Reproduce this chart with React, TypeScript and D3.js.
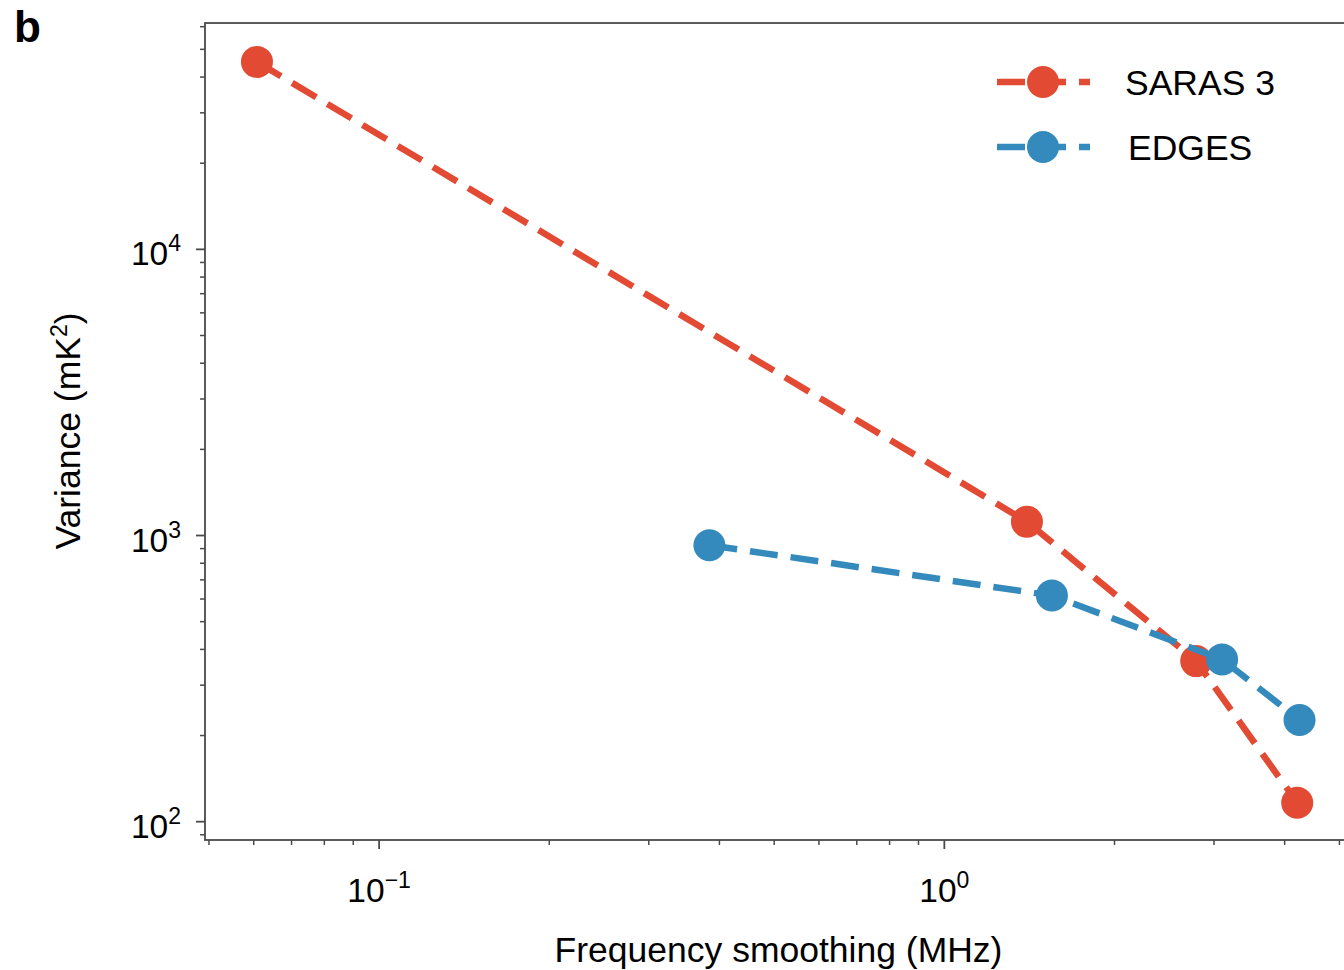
import React from "react";
import * as d3 from "d3";

const seriesNames = ["SARAS 3", "EDGES"];
const seriesColors = ["#E24A33", "#348ABD"];
const sarasX = [0.0608, 1.40, 2.79, 4.21];
const sarasY = [45200, 1117, 364, 116.5];
const edgesX = [0.384, 1.55, 3.10, 4.25];
const edgesY = [925, 617, 369, 226.6];
const xMajorTicks = [0.1, 1];
const xMajorLabels = [["10", "−1"], ["10", "0"]];
const yMajorTicks = [100, 1000, 10000];
const yMajorLabels = [["10", "2"], ["10", "3"], ["10", "4"]];

const W = 1344;
const H = 970;
const FONT = "'Liberation Sans', Arial, Helvetica, sans-serif";

export default function App() {
  const x = d3.scaleLog().domain([0.0492, 5.22]).range([205, 1350]);
  const y = d3.scaleLog().domain([86.3, 61800]).range([840, 23]);
  const [x0, x1] = x.range();
  const [yb, yt] = y.range();

  const xMinor: number[] = [];
  for (let e = -2; e <= 1; e++) {
    for (let m = 2; m <= 9; m++) {
      const v = m * Math.pow(10, e);
      if (v >= x.domain()[0] && v <= x.domain()[1]) xMinor.push(v);
    }
  }
  const yMinor: number[] = [];
  for (let e = 1; e <= 4; e++) {
    for (let m = 2; m <= 9; m++) {
      const v = m * Math.pow(10, e);
      if (v >= y.domain()[0] && v <= y.domain()[1]) yMinor.push(v);
    }
  }

  const line = d3
    .line<[number, number]>()
    .x((d) => x(d[0]))
    .y((d) => y(d[1]));

  const series = [
    { name: seriesNames[0], color: seriesColors[0], pts: sarasX.map((v, i) => [v, sarasY[i]] as [number, number]), lx: 1125 },
    { name: seriesNames[1], color: seriesColors[1], pts: edgesX.map((v, i) => [v, edgesY[i]] as [number, number]), lx: 1128 },
  ];

  const lw = 6.5;
  const dash = "28,13";
  const r = 16;
  const axisColor = "#4a4a4a";

  return (
    <svg width={W} height={H} style={{ position: "absolute", left: 0, top: 0, background: "#fff" }} fontFamily={FONT}>
      <rect x={0} y={0} width={W} height={H} fill="#fff" />
      <text x={14} y={42} fontSize={44} fontWeight="bold" fill="#000">b</text>

      {/* data */}
      {series.map((s) => (
        <g key={s.name}>
          <path d={line(s.pts) || ""} fill="none" stroke={s.color} strokeWidth={lw} strokeDasharray={dash} strokeLinecap="butt" />
          {s.pts.map((p, i) => (
            <circle key={i} cx={x(p[0])} cy={y(p[1])} r={r} fill={s.color} />
          ))}
        </g>
      ))}

      {/* spines */}
      <rect x={x0} y={yt} width={x1 - x0} height={yb - yt} fill="none" stroke={axisColor} strokeWidth={1.8} />

      {/* x ticks */}
      {xMinor.map((v) => (
        <line key={"xm" + v} x1={x(v)} x2={x(v)} y1={yb} y2={yb + 5} stroke={axisColor} strokeWidth={1.5} />
      ))}
      {xMajorTicks.map((v, i) => (
        <g key={"xM" + v}>
          <line x1={x(v)} x2={x(v)} y1={yb} y2={yb + 9} stroke={axisColor} strokeWidth={1.8} />
          <text x={x(v)} y={902} textAnchor="middle" fontSize={33.5} fill="#000">
            {xMajorLabels[i][0]}
            <tspan dy={-14} fontSize={23}>{xMajorLabels[i][1]}</tspan>
          </text>
        </g>
      ))}

      {/* y ticks */}
      {yMinor.map((v) => (
        <line key={"ym" + v} x1={x0 - 5} x2={x0} y1={y(v)} y2={y(v)} stroke={axisColor} strokeWidth={1.5} />
      ))}
      {yMajorTicks.map((v, i) => (
        <g key={"yM" + v}>
          <line x1={x0 - 9} x2={x0} y1={y(v)} y2={y(v)} stroke={axisColor} strokeWidth={1.8} />
          <text x={181} y={y(v) + 16} textAnchor="end" fontSize={33.5} fill="#000">
            {yMajorLabels[i][0]}
            <tspan dy={-14} fontSize={23}>{yMajorLabels[i][1]}</tspan>
          </text>
        </g>
      ))}

      {/* axis labels */}
      <text x={778.5} y={962} textAnchor="middle" fontSize={35.5} fill="#000">Frequency smoothing (MHz)</text>
      <text transform="translate(80,431) rotate(-90)" textAnchor="middle" fontSize={35.5} fill="#000">
        Variance (mK<tspan dy={-13} fontSize={23}>2</tspan><tspan dy={13}>)</tspan>
      </text>

      {/* legend */}
      {series.map((s, i) => {
        const ly = 82 + i * 65;
        return (
          <g key={"lg" + s.name}>
            <line x1={997} x2={1090} y1={ly} y2={ly} stroke={s.color} strokeWidth={lw} strokeDasharray={dash} />
            <circle cx={1043} cy={ly} r={r} fill={s.color} />
            <text x={s.lx} y={ly + 13} fontSize={35.5} fill="#000">{s.name}</text>
          </g>
        );
      })}
    </svg>
  );
}
